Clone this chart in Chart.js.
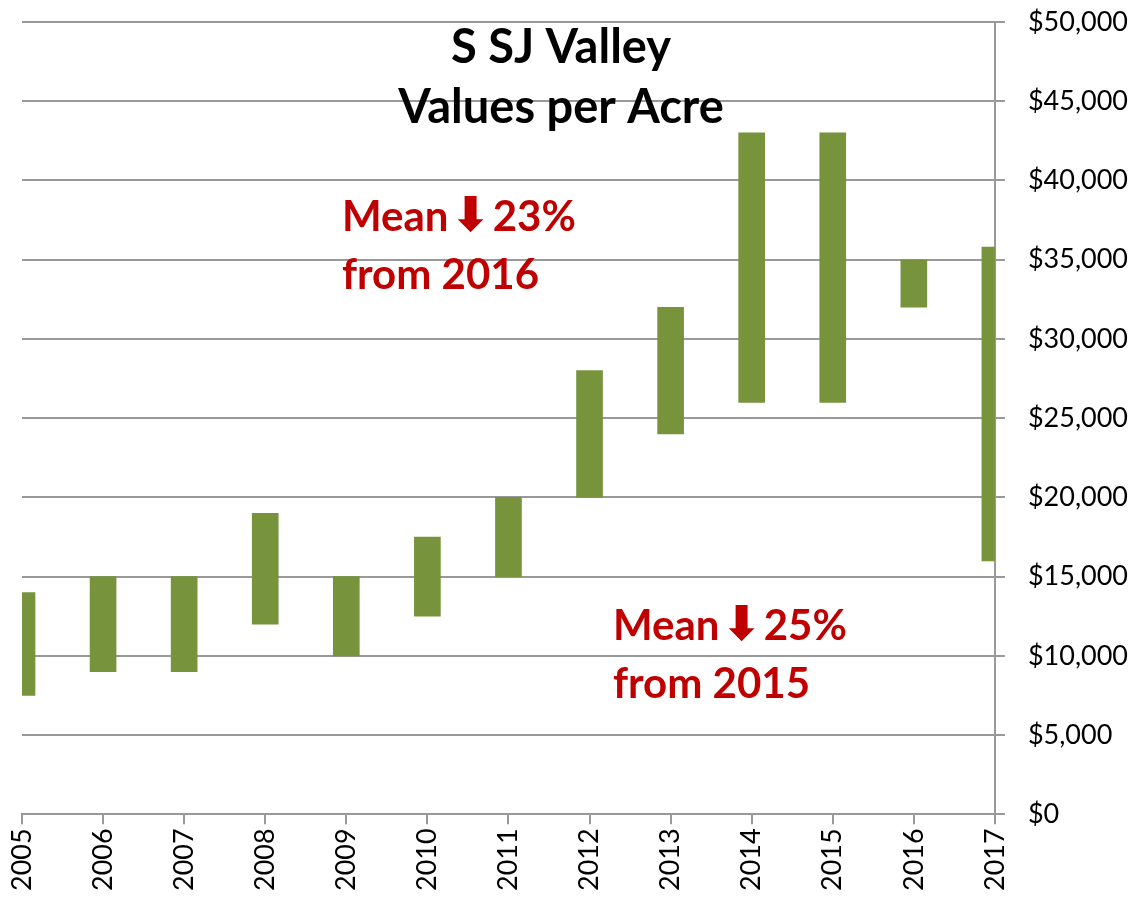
<!DOCTYPE html>
<html>
<head>
<meta charset="utf-8">
<script src="https://cdn.jsdelivr.net/npm/chart.js@4"></script>
<style>
  html, body { margin: 0; padding: 0; background: #fff; }
  #wrap { width: 1136px; height: 903px; }
</style>
</head>
<body>
<div id="wrap"><canvas id="valueChart"></canvas></div>
<script>
// Data
const years = ['2005', '2006', '2007', '2008', '2009', '2010', '2011', '2012', '2013', '2014', '2015', '2016', '2017'];
const lowValues = [7500, 9000, 9000, 12000, 10000, 12500, 15000, 20000, 24000, 26000, 26000, 32000, 16000];
const highValues = [14000, 15000, 15000, 19000, 15000, 17500, 20000, 28000, 32000, 43000, 43000, 35000, 35800];
const titleLines = ['S SJ Valley', 'Values per Acre'];
const note2016 = ['Mean', '\u2B07', '23%', 'from 2016'];
const note2015 = ['Mean', '\u2B07', '25%', 'from 2015'];

const fontFamily = 'Lato, "Open Sans", sans-serif';
const gridColor = '#999999';

// draw "Mean <arrow> NN%" then "from YYYY" below it
function drawNote(c, parts, x, y) {
    const big = 'bold 42px ' + fontFamily;
    c.font = big;
    c.fillText(parts[0], x, y);
    let cx = x + c.measureText(parts[0]).width + 2;
    c.font = 'bold 48px "DejaVu Sans", sans-serif';
    c.fillText(parts[1], cx, y + 2);
    cx += c.measureText(parts[1]).width + 2;
    c.font = big;
    c.fillText(parts[2], cx, y);
    c.fillText(parts[3], x, y + 58);
}

// Text drawn over the plot (title + red notes)
const overlayText = {
    id: 'overlayText',
    afterDraw(chart) {
        const c = chart.ctx;
        c.save();
        c.textBaseline = 'middle';
        c.fillStyle = '#000';
        c.textAlign = 'center';
        c.font = 'bold 47px ' + fontFamily;
        c.fillText(titleLines[0], 561, 48);
        c.fillText(titleLines[1], 561, 108);

        c.fillStyle = '#C00000';
        c.textAlign = 'left';
        drawNote(c, note2016, 342, 217);
        drawNote(c, note2015, 613, 626);
        c.restore();
    }
};

// no extra room for overhanging end labels, the padding below sets the plot area
function noOverhang(scale) {
    scale.paddingTop = 0;
    scale.paddingBottom = 0;
    scale.paddingLeft = 0;
    scale.paddingRight = 0;
}

const ctx = document.getElementById('valueChart').getContext('2d');
const valueChart = new Chart(ctx, {
    type: 'bar',
    data: {
        labels: years,
        datasets: [{
            data: years.map((y, i) => [lowValues[i], highValues[i]]),
            backgroundColor: '#77933C',
            borderWidth: 0,
            barThickness: 26
        }]
    },
    options: {
        responsive: true,
        maintainAspectRatio: false,
        animation: false,
        layout: {
            padding: { left: 22, top: 22, right: -15, bottom: 8 }
        },
        plugins: {
            legend: { display: false },
            tooltip: { enabled: false }
        },
        scales: {
            x: {
                offset: false,
                afterFit: noOverhang,
                grid: {
                    offset: false,
                    drawOnChartArea: false,
                    drawTicks: true,
                    tickLength: 10,
                    color: gridColor,
                    lineWidth: 2
                },
                border: { display: true, color: gridColor, width: 2 },
                ticks: {
                    color: '#000',
                    font: { family: fontFamily, size: 27 },
                    maxRotation: 90,
                    minRotation: 90,
                    autoSkip: false,
                    padding: 4
                }
            },
            y: {
                position: 'right',
                min: 0,
                max: 50000,
                afterFit: noOverhang,
                grid: {
                    color: gridColor,
                    lineWidth: 2,
                    drawTicks: true,
                    tickLength: 10
                },
                border: { display: true, color: gridColor, width: 2 },
                ticks: {
                    stepSize: 5000,
                    color: '#000',
                    font: { family: fontFamily, size: 27 },
                    padding: 23,
                    callback: v => '$' + v.toLocaleString('en-US')
                }
            }
        }
    },
    plugins: [overlayText]
});
</script>
</body>
</html>
